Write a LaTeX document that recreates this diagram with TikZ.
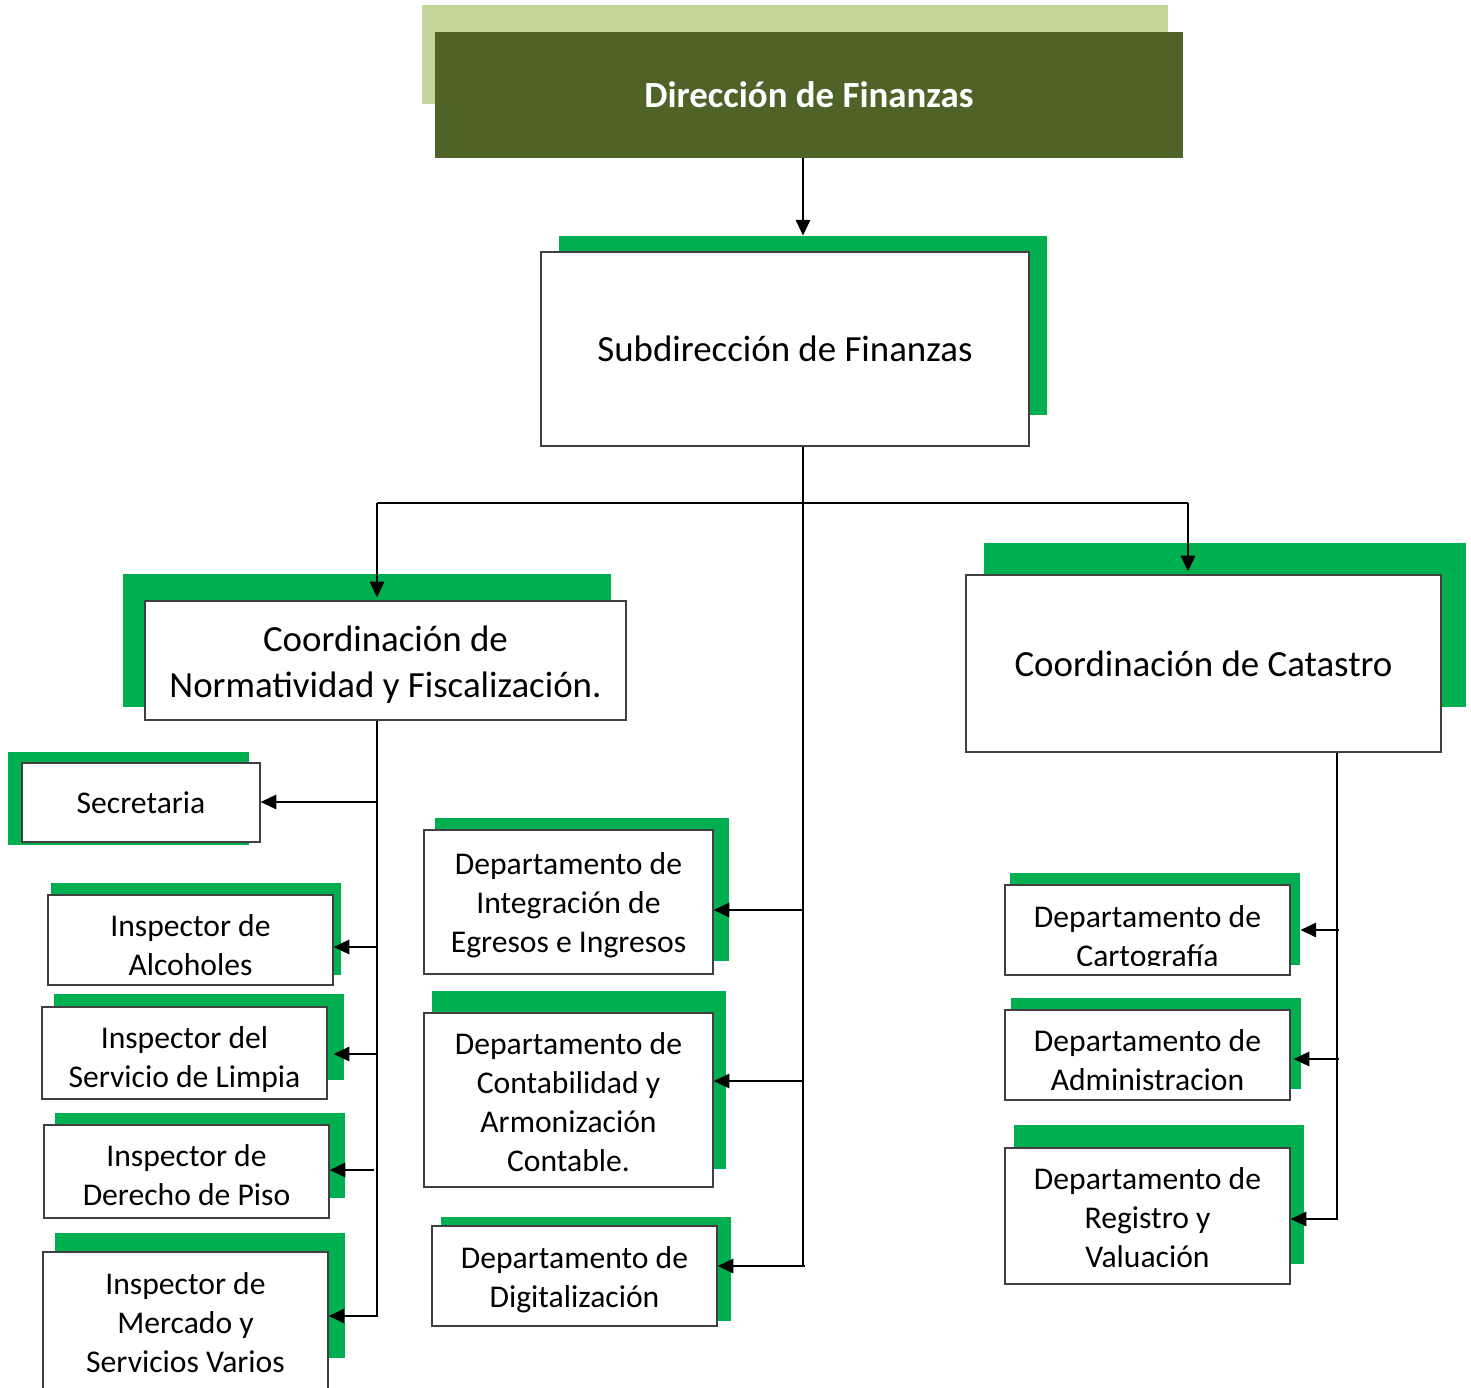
\documentclass[tikz,border=0pt]{standalone}
\usepackage{fontspec}
\setmainfont{Carlito}
\usepackage{tikz}
\usetikzlibrary{arrows.meta}

\definecolor{olivedark}{HTML}{4F6228}
\definecolor{olivelight}{HTML}{C3D69B}
\definecolor{stripgreen}{HTML}{00B050}

\newcommand{\shiftedtext}[2]{\raisebox{#1}[\height][\depth]{\begin{tabular}{@{}c@{}}#2\end{tabular}}}

\tikzset{
	sz/.style 2 args={minimum width=#1*0.02cm, minimum height=#2*0.02cm, inner sep=0pt},
	strip/.style={fill=stripgreen, draw=none},
	orgbox/.style={fill=white, draw=black!75, line width=0.6pt, align=center},
	bigtext/.style={font=\fontsize{21}{26}\selectfont},
	smalltext/.style={font=\fontsize{18}{22.2}\selectfont},
	conn/.style={line width=1.6pt},
	arr/.style={conn, -{Triangle[length=9pt,width=8pt]}}
}

\begin{document}
\begin{tikzpicture}[x=0.02cm, y=-0.02cm]
			\useasboundingbox (0,0) rectangle (1471,1387);
			% top
			\node[sz={746}{99}, fill=olivelight] (dirB) at (795,54.5) {};
			\node[sz={748}{126}, fill=olivedark, text=white, font=\fontsize{21}{26}\selectfont\bfseries] (dir) at (809,95) {Dirección de Finanzas};
			\node[strip, sz={488}{179}] (subG) at (803,325.5) {};
			\node[orgbox, bigtext, sz={488}{194}] (sub) at (785,349) {Subdirección de Finanzas};
			% coordinaciones
			\node[strip, sz={488}{133}] (cnG) at (367,640.5) {};
			\node[orgbox, bigtext, sz={481}{119}] (cn) at (385.5,660.5) {\shiftedtext{-0.1cm}{Coordinación de\\Normatividad y Fiscalización.}};
			\node[strip, sz={482}{164}] (ccG) at (1225,625) {};
			\node[orgbox, bigtext, sz={475}{177}] (cc) at (1203.5,663.5) {Coordinación de Catastro};
			\begin{scope}[smalltext] % left column
				\node[strip, sz={241}{93}] (secG) at (128.5,798.5) {};
				\node[orgbox, sz={238}{79}] (sec) at (141,802.5) {Secretaria};
				\node[strip, sz={290}{92}] (alcG) at (196,929) {};
				\node[orgbox, sz={285}{90}] (alc) at (190.5,940) {\shiftedtext{-0.16cm}{Inspector de\\Alcoholes}};
				\node[strip, sz={290}{86}] (limG) at (199,1037) {};
				\node[orgbox, sz={285}{92}] (lim) at (184.5,1053) {\shiftedtext{-0.14cm}{Inspector del\\Servicio de Limpia}};
				\node[strip, sz={290}{85}] (pisG) at (200,1155.5) {};
				\node[orgbox, sz={285}{93}] (pis) at (186.5,1171.5) {\shiftedtext{-0.14cm}{Inspector de\\Derecho de Piso}};
				\node[strip, sz={290}{125}] (merG) at (200,1295.5) {};
				\node[orgbox, sz={285}{148}] (mer) at (185.5,1326) {\shiftedtext{0cm}{Inspector de\\Mercado y\\Servicios Varios}};
			\end{scope}
			\begin{scope}[smalltext] % middle column
				\node[strip, sz={294}{143}] (intG) at (582,889.5) {};
				\node[orgbox, sz={289}{144}] (int) at (568.5,902) {\shiftedtext{-0.08cm}{Departamento de\\Integración de\\Egresos e Ingresos}};
				\node[strip, sz={294}{178}] (conG) at (579,1080) {};
				\node[orgbox, sz={289}{174}] (con) at (568.5,1100) {\shiftedtext{-0.1cm}{Departamento de\\Contabilidad y\\Armonización\\Contable.}};
				\node[strip, sz={290}{104}] (digG) at (586,1269) {};
				\node[orgbox, sz={285}{100}] (dig) at (574.5,1276) {\shiftedtext{-0.08cm}{Departamento de\\Digitalización}};
			\end{scope}
			\begin{scope}[smalltext] % right column
				\node[strip, sz={290}{92}] (carG) at (1155,919) {};
				\node[orgbox, sz={285}{90}] (car) at (1147.5,930) {};
				\begin{scope}
					\clip (car.north west) rectangle ([yshift=0.2cm]car.south east);
					\node[align=center] (carT) at (1147.5,938.5) {Departamento de\\Cartografía};
				\end{scope}
				\node[strip, sz={290}{91}] (admG) at (1156,1043.5) {};
				\node[orgbox, sz={285}{90}] (adm) at (1147.5,1055) {\shiftedtext{-0.16cm}{Departamento de\\Administracion}};
				\node[strip, sz={290}{139}] (regG) at (1159,1194.5) {};
				\node[orgbox, sz={285}{136}] (reg) at (1147.5,1216) {\shiftedtext{-0.1cm}{Departamento de\\Registro y\\Valuación}};
			\end{scope}
			% connectors
			\coordinate (jM) at (803,503);
			\coordinate (jL) at (377,503);
			\coordinate (jR) at (1188,503);
			\draw[arr] (dir.south -| jM) -- (subG.north -| jM);
			\draw[conn] (sub.south -| jM) -- (803,1267);
			\draw[conn] (jL) -- (jR);
			\draw[arr] (jL) -- ([yshift=0.06cm]cn.north -| jL);
			\draw[arr] (jR) -- ([yshift=0.06cm]cc.north -| jR);
			\draw[conn] (cn.south -| jL) -- (377,1317);
			\draw[conn] (cc.south -| 1337,0) -- (1337,1220);
			% left branches
			\coordinate (bSec) at (377,802);
			\coordinate (bAlc) at (377,947);
			\coordinate (bLim) at (377,1054);
			\coordinate (bPis) at (374,1170);
			\coordinate (bMer) at (377,1316);
			\draw[arr] (bSec) -- (bSec -| sec.east);
			\draw[arr] (bAlc) -- (bAlc -| alc.east);
			\draw[arr] (bLim) -- ([xshift=0.12cm]bLim -| lim.east);
			\draw[arr] (bPis) -- (bPis -| pis.east);
			\draw[arr] (bMer) -- (bMer -| mer.east);
			% middle branches
			\coordinate (bInt) at (803,910);
			\coordinate (bCon) at (803,1081);
			\coordinate (bDig) at (805,1266);
			\draw[arr] (bInt) -- (bInt -| int.east);
			\draw[arr] (bCon) -- (bCon -| con.east);
			\draw[arr] (bDig) -- (bDig -| dig.east);
			% right branches
			\coordinate (bCar) at (1339,930);
			\coordinate (bAdm) at (1339,1059);
			\coordinate (bReg) at (1337,1219);
			\draw[arr] (bCar) -- (bCar -| carG.east);
			\draw[arr] (bAdm) -- ([xshift=0.06cm]bAdm -| adm.east);
			\draw[arr] (bReg) -- (bReg -| reg.east);
		\end{tikzpicture}
\end{document}
